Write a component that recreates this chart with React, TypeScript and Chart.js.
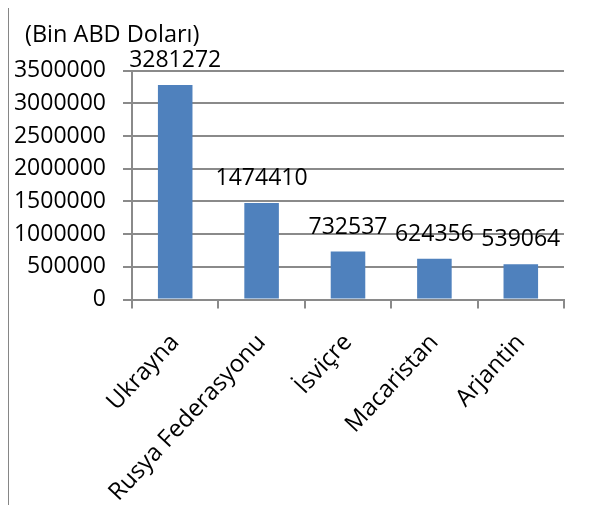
import React, { useEffect, useRef } from "react";
import { Chart, registerables } from "chart.js";

Chart.register(...registerables);

const categories = ["Ukrayna", "Rusya Federasyonu", "İsviçre", "Macaristan", "Arjantin"];
const values = [3281272, 1474410, 732537, 624356, 539064];
const unitLabel = "(Bin ABD Doları)";
const yMin = 0;
const yMax = 3500000;
const yStep = 500000;

const FONT = "'Open Sans', 'Noto Sans', sans-serif";
const FONT_SIZE = 23;
const X_FONT_SIZE = 24;
const GRID = "#8a8a8a";
const BAR = "#4F81BD";

const CANVAS_W = 583;
const CANVAS_H = 540;
const TITLE_INDENT = 13;

const valueLabels = {
  id: "valueLabels",
  afterDatasetsDraw(chart: any) {
    const ctx = chart.ctx;
    const meta = chart.getDatasetMeta(0);
    const data = chart.data.datasets[0].data as number[];
    ctx.save();
    ctx.font = `${FONT_SIZE}px ${FONT}`;
    ctx.fillStyle = "#000";
    ctx.textAlign = "center";
    ctx.textBaseline = "alphabetic";
    meta.data.forEach((el: any, i: number) => {
      ctx.fillText(String(data[i]), el.x, el.y - 18);
    });
    ctx.restore();
  },
};

const indentedTitle = {
  id: "indentedTitle",
  afterDraw(chart: any) {
    const tb = chart.titleBlock;
    if (!tb) return;
    const ctx = chart.ctx;
    const lh = FONT_SIZE * 1.2;
    ctx.save();
    ctx.font = `${FONT_SIZE + 0.5}px ${FONT}`;
    ctx.fillStyle = "#000";
    ctx.textAlign = "left";
    ctx.textBaseline = "middle";
    ctx.fillText(unitLabel, tb.left + TITLE_INDENT, tb.top + 14 + lh / 2);
    ctx.restore();
  },
};

export default function App() {
  const ref = useRef<HTMLCanvasElement | null>(null);

  useEffect(() => {
    if (!ref.current) return;
    const chart = new Chart(ref.current, {
      type: "bar",
      data: {
        labels: categories,
        datasets: [
          {
            data: values,
            backgroundColor: BAR,
            borderWidth: 0,
            barPercentage: 0.4,
            categoryPercentage: 1,
          },
        ],
      },
      options: {
        responsive: false,
        animation: false,
        devicePixelRatio: 1,
        layout: { padding: { left: 3, right: 28, top: 0, bottom: 0 } },
        plugins: {
          legend: { display: false },
          tooltip: { enabled: false },
          title: {
            display: true,
            text: unitLabel,
            align: "start",
            color: "rgba(0,0,0,0)",
            font: { family: FONT, size: FONT_SIZE, weight: "normal", lineHeight: 1.2 },
            padding: { top: 14, bottom: 21 },
          },
        },
        scales: {
          x: {
            grid: {
              display: true,
              drawOnChartArea: false,
              drawTicks: true,
              tickLength: 9,
              color: GRID,
              lineWidth: 2,
              offset: true,
            },
            border: { display: true, color: GRID, width: 2 },
            ticks: {
              color: "#000",
              font: { family: FONT, size: X_FONT_SIZE },
              minRotation: 47,
              maxRotation: 47,
              padding: 20,
              autoSkip: false,
            },
            afterFit(scale: any) {
              scale.height = CANVAS_H - 291.5;
            },
          },
          y: {
            min: yMin,
            max: yMax,
            grid: {
              color: GRID,
              lineWidth: 2,
              drawTicks: true,
              tickLength: 9,
            },
            border: { display: true, color: GRID, width: 2 },
            ticks: {
              stepSize: yStep,
              color: "#000",
              font: { family: FONT, size: FONT_SIZE },
              padding: 17,
              callback: (v: any) => String(v),
            },
            afterFit(scale: any) {
              scale.width = 120;
            },
          },
        },
      },
      plugins: [valueLabels, indentedTitle],
    });
    return () => chart.destroy();
  }, []);

  return (
    <div
      style={{
        margin: "-2px 0 0 -1px",
        borderTop: "2px solid #868686",
        borderLeft: "2px solid #868686",
        width: CANVAS_W,
        height: 497,
        overflow: "hidden",
        background: "#fff",
      }}
    >
      <canvas ref={ref} width={CANVAS_W} height={CANVAS_H} style={{ display: "block" }} />
    </div>
  );
}
